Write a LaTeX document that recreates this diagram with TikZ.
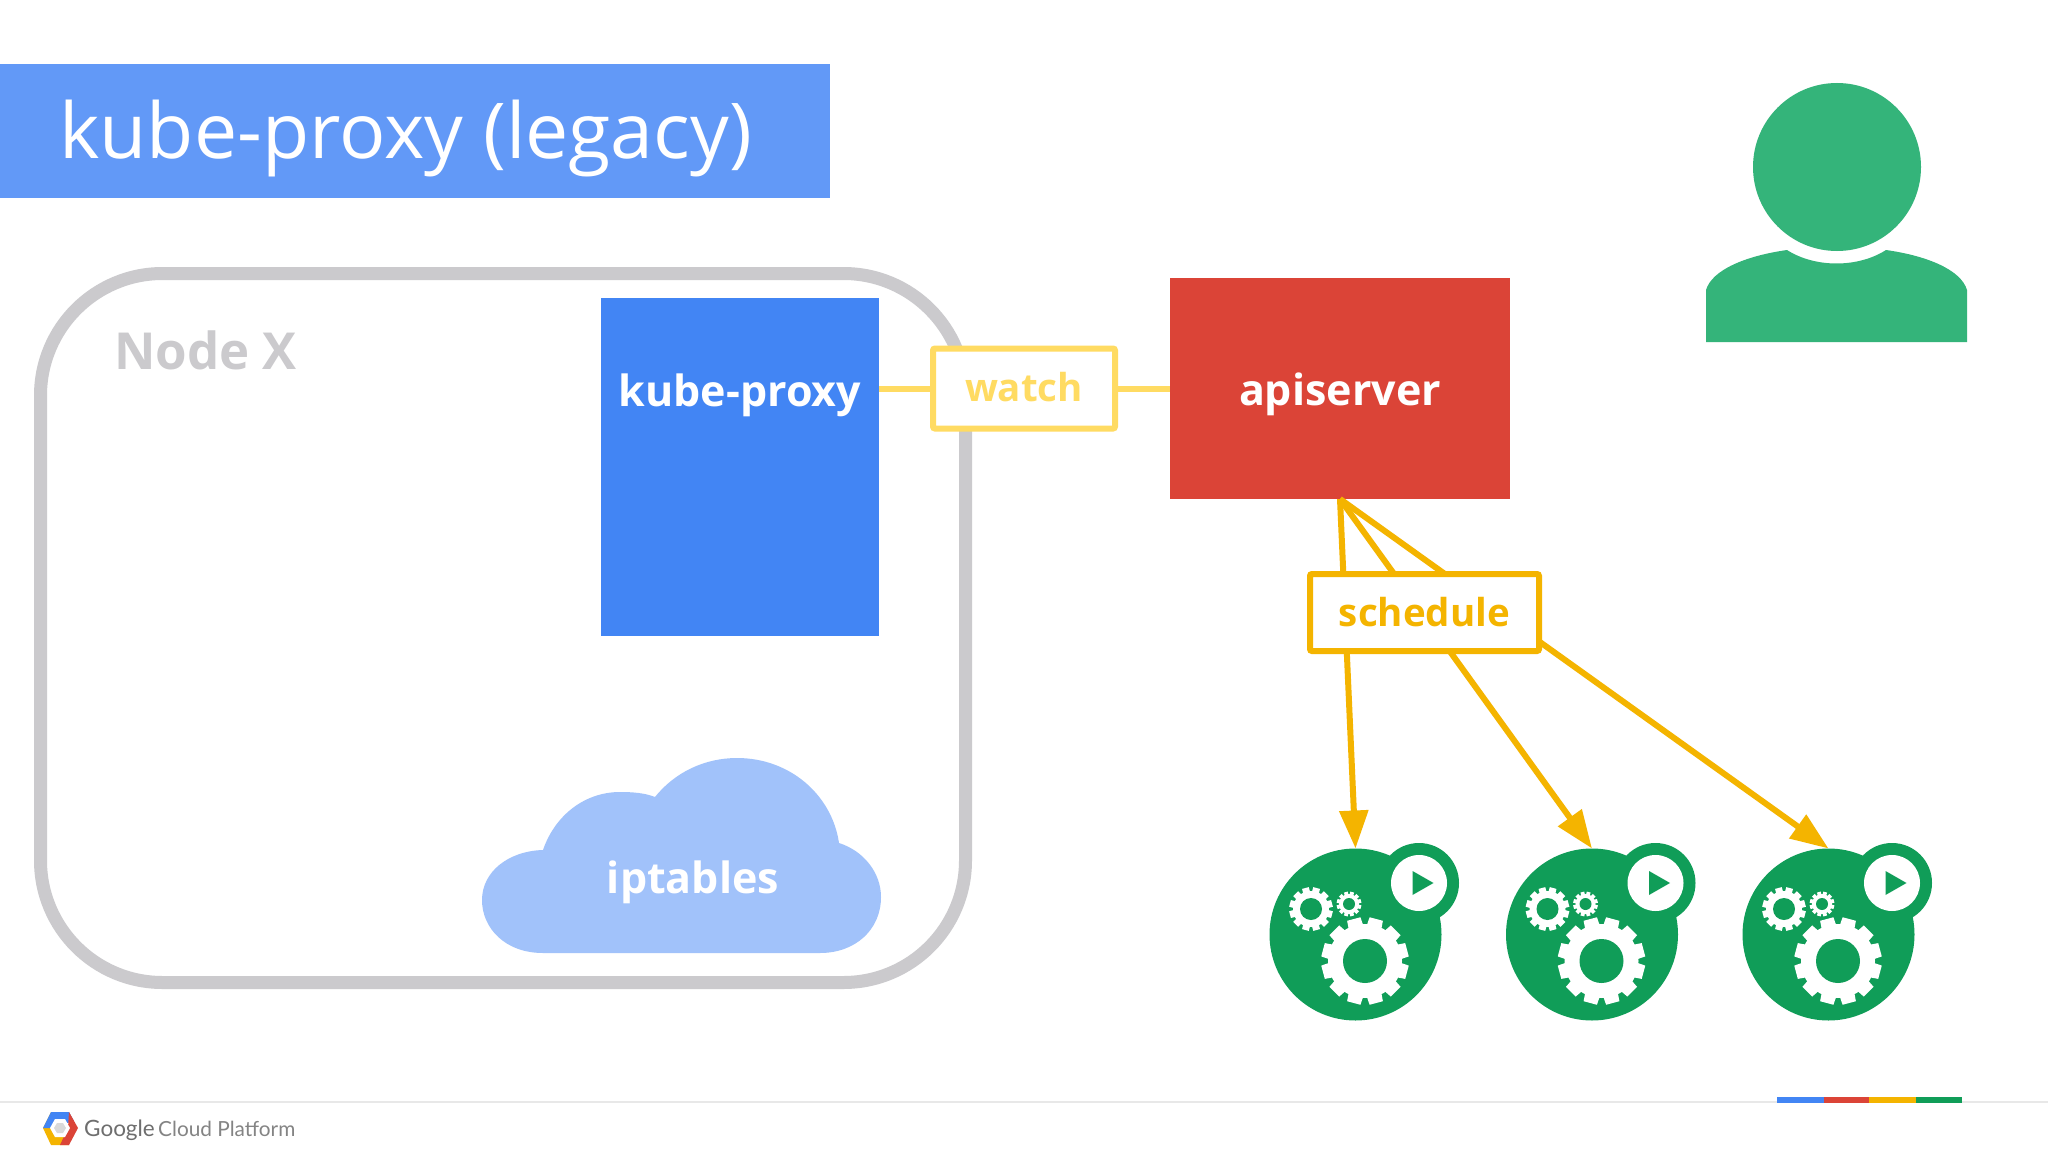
\documentclass[tikz,border=0pt]{standalone}
\usepackage{fontspec}
\setmainfont{Open Sans}
\newfontfamily\footfont{Lato}
\usetikzlibrary{arrows.meta}
\definecolor{titleblue}{HTML}{6299F7}
\definecolor{proxyblue}{HTML}{4285F4}
\definecolor{cloudblue}{HTML}{A1C2FA}
\definecolor{apired}{HTML}{DB4437}
\definecolor{watchyellow}{HTML}{FFDB62}
\definecolor{schedyellow}{HTML}{F4B400}
\definecolor{workgreen}{HTML}{109D58}
\definecolor{persongreen}{HTML}{34B47A}
\definecolor{nodegray}{HTML}{CBCACD}
\definecolor{footgray}{HTML}{6E6E6E}
\tikzset{
    block/.style={inner sep=0pt, outer sep=0pt},
    boldtext/.style={font=\fontsize{#1}{#1}\selectfont\bfseries, inner sep=0pt},
    watchline/.style={watchyellow, line width=6pt},
    schedline/.style={schedyellow, line width=6pt, -{Stealth[length=38pt,width=28pt,inset=0pt]}},
}
\newcommand{\gearwheel}[5]{
    \fill [white] (#1,#2) circle (#3);
    \foreach \a in {15,45,...,345}
        \fill [white, shift={(#1,#2)}] (\a-12:#3-1) -- (\a-9:#4) -- (\a+9:#4) -- (\a+12:#3-1) -- cycle;
    \fill [workgreen] (#1,#2) circle (#5);
}
\begin{document}
\begin{tikzpicture}[x=1pt, y=-1pt]
            \useasboundingbox [fill=white] (0,0) rectangle (2048,1153);
            % title bar
            \node [block, fill=titleblue, minimum width=830pt, minimum height=134pt] (titlebar) at (415,131) {};
            \node [text=white, inner sep=0pt, anchor=base west, font=\fontsize{77}{77}\selectfont] (titletext) at (59,158) {kube-proxy (legacy)};
            % node box
            \node [block, draw=nodegray, line width=13pt, rounded corners=122pt, minimum width=925pt, minimum height=709pt] (nodex) at (503,628) {};
            \node [boldtext=51, text=nodegray, anchor=base west] (nodelabel) at (114,369) {Node X};
            \node [block, fill=proxyblue, minimum width=278pt, minimum height=338pt] (kubeproxy) at (740,467) {};
            \node [boldtext=43, text=white] (proxylabel) at (740,395) {kube-proxy};
            % cloud
            \fill [cloudblue] (543,953) .. controls (505,953) and (482,928) .. (482,900)
                .. controls (482,872) and (508,851) .. (543,850)
                .. controls (555,815) and (585,792) .. (620,792)
                .. controls (633,792) and (645,793) .. (655,797)
                .. controls (675,772) and (705,758) .. (737,758)
                .. controls (790,758) and (832,795) .. (839,843)
                .. controls (864,851) and (881,873) .. (881,897)
                .. controls (881,930) and (855,953) .. (820,953) -- cycle;
            \node [boldtext=43, text=white] (iptables) at (693,882) {iptables};
            % watch
            \node [block, fill=apired, minimum width=340pt, minimum height=221pt] (apiserver) at (1340,388.5) {};
            \node [boldtext=43, text=white] (apilabel) at (1340,394) {apiserver};
            \node [block, draw=watchyellow, fill=white, line width=6pt, rounded corners=2pt, minimum width=182pt, minimum height=80pt] (watch) at (1024,388.5) {};
            \node [boldtext=38.5, text=watchyellow] (watchlabel) at (1024,387) {watch};
            \draw [watchline] (watch.west) -- (watch.west -| kubeproxy.east);
            \draw [watchline] (watch.east) -- (watch.east -| apiserver.west);
            % workers
            \foreach \i/\cx in {1/1355.5,2/1592,3/1828.5} {
                \begin{scope}[shift={(\cx,934.5)}]
                    \node [block, circle, fill=workgreen, minimum size=172pt] (worker\i) at (0,0) {};
                    \fill [workgreen] (63.5,-51.5) circle (40);
                    \fill [white] (63.5,-51.5) circle (28);
                    \fill [workgreen] (57,-63.5) -- (78,-51.5) -- (57,-39.5) -- cycle;
                    \gearwheel{9.5}{26.5}{37}{44}{22}
                    \gearwheel{-44.5}{-25.5}{18}{22}{11}
                    \gearwheel{-6.5}{-30.5}{10}{12.5}{6}
                \end{scope}
                \draw [schedline] (apiserver.south) -- (worker\i.north);
            }
            % schedule
            \node [block, draw=schedyellow, fill=white, line width=6pt, rounded corners=2pt, minimum width=229pt, minimum height=77pt] (schedule) at (1424.5,612.5) {};
            \node [boldtext=38.5, text=schedyellow] (schedlabel) at (1424.5,612) {schedule};
            % person
            \fill [persongreen] (1837,167) circle (84);
            \fill [persongreen] (1706,342) -- (1706,290) .. controls (1712,270) and (1745,256) .. (1787,250)
                .. controls (1815,268) and (1858,268) .. (1886,250)
                .. controls (1928,256) and (1961,270) .. (1967,290) -- (1967,342) -- cycle;
            % footer
            \draw [line width=2pt, black!9] (0,1102) -- (2048,1102);
            \fill [proxyblue] (1777,1097) rectangle (1824,1103);
            \fill [apired] (1824,1097) rectangle (1869,1103);
            \fill [schedyellow] (1869,1097) rectangle (1916,1103);
            \fill [workgreen] (1916,1097) rectangle (1962,1103);
            \fill [schedyellow] (43,1128) -- (51,1112) -- (69,1145) -- (51,1145) -- cycle;
            \fill [proxyblue] (43,1128) -- (51,1112) -- (69,1112) -- (74,1121) -- (50,1128) -- cycle;
            \fill [apired] (69,1112) -- (78,1128) -- (69,1145) -- (60,1145) -- (68,1128) -- cycle;
            \fill [white] (50,1128) -- (55,1119) -- (65,1119) -- (70,1128) -- (65,1137) -- (55,1137) -- cycle;
            \fill [black!15] (54,1128) -- (57,1123) -- (63,1123) -- (66,1128) -- (63,1133) -- (57,1133) -- cycle;
            \node [inner sep=0pt, anchor=base west, text=footgray, font=\footfont\fontsize{22.5}{22.5}\selectfont] (footgoogle) at (84,1136) {Google};
            \node [inner sep=0pt, anchor=base west, text=footgray!85, font=\footfont\fontsize{20.8}{20.8}\selectfont] (footcloud) at (158,1136) {Cloud Platform};
\end{tikzpicture}
\end{document}
